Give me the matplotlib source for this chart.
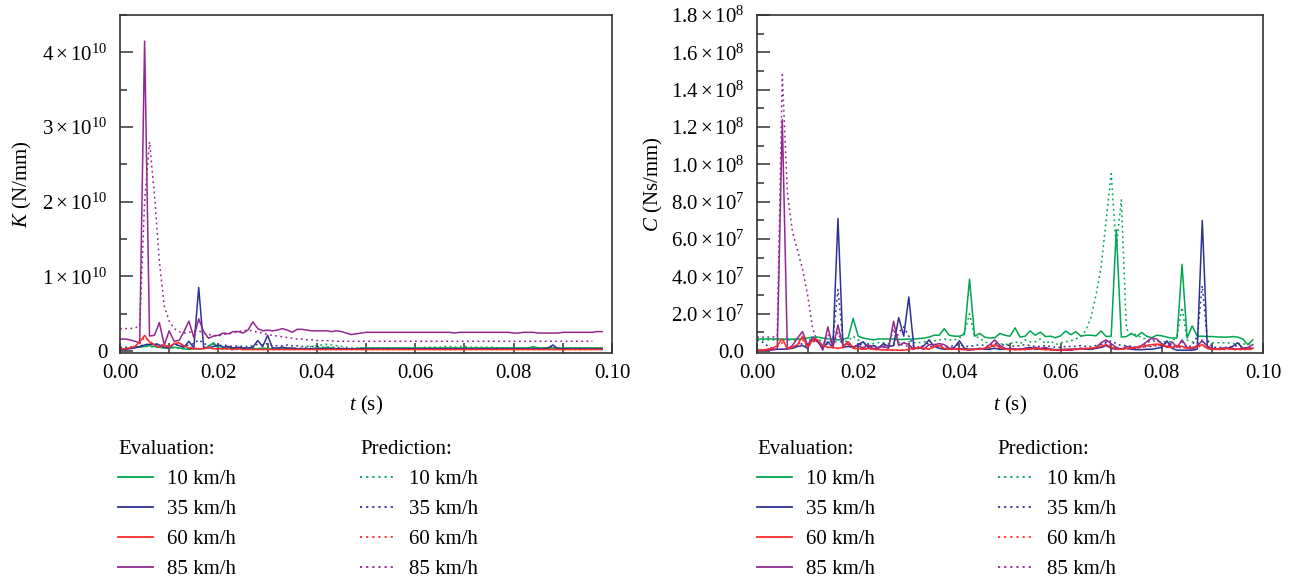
import numpy as np
import matplotlib
matplotlib.use("Agg")
import matplotlib.pyplot as plt
from matplotlib.legend import Legend
from matplotlib.ticker import MultipleLocator, FuncFormatter

plt.rcParams["font.family"] = ["Liberation Serif", "DejaVu Serif"]
plt.rcParams["mathtext.fontset"] = "custom"
plt.rcParams["mathtext.rm"] = "Liberation Serif"
plt.rcParams["mathtext.it"] = "Liberation Serif:italic"

# time axis (s)
t = np.arange(99) * 0.001
t_k85_pred = np.arange(97) * 0.001

speeds = ["10", "35", "60", "85"]
colors = {"10": "#00a651", "35": "#2e3192", "60": "#ff2a2a", "85": "#92278f"}

# ---- stiffness K, units of 1e9 N/mm ----
k_eval_10 = [0.3, 0.3, 0.4, 0.5, 0.5, 0.6, 0.7, 0.6, 0.5, 0.4,
             0.4, 0.5, 0.4, 0.3, 0.2, 0.3, 0.3, 0.3, 0.6, 1.1,
             0.4, 0.3, 0.4, 0.3, 0.3, 0.4, 0.3, 0.3, 0.3, 0.4,
             0.3, 0.3, 0.3, 0.4, 0.3, 0.3, 0.3, 0.3, 0.3, 0.3,
             0.4, 0.4, 0.5, 0.4, 0.3, 0.3, 0.3, 0.3, 0.3, 0.4,
             0.4, 0.4, 0.4, 0.4, 0.4, 0.4, 0.4, 0.4, 0.4, 0.4,
             0.4, 0.4, 0.4, 0.4, 0.4, 0.4, 0.4, 0.4, 0.4, 0.4,
             0.4, 0.4, 0.4, 0.4, 0.4, 0.4, 0.4, 0.4, 0.4, 0.4,
             0.4, 0.4, 0.4, 0.4, 0.6, 0.4, 0.4, 0.4, 0.4, 0.4,
             0.4, 0.4, 0.4, 0.4, 0.4, 0.4, 0.4, 0.4, 0.4]
k_pred_10 = [0.4, 0.4, 0.5, 0.5, 0.6, 0.6, 0.6, 0.5, 0.5, 0.4,
             0.4, 0.4, 0.4, 0.3, 0.3, 0.3, 0.3, 0.4, 0.7, 0.9,
             0.5, 0.4, 0.4, 0.4, 0.3, 0.3, 0.3, 0.4, 0.3, 0.3,
             0.3, 0.3, 0.3, 0.3, 0.3, 0.3, 0.4, 0.4, 0.5, 0.6,
             0.7, 0.8, 0.9, 0.8, 0.7, 0.6, 0.5, 0.4, 0.4, 0.4,
             0.4, 0.4, 0.4, 0.4, 0.4, 0.4, 0.4, 0.4, 0.4, 0.4,
             0.4, 0.4, 0.5, 0.5, 0.5, 0.5, 0.6, 0.6, 0.5, 0.6,
             0.6, 0.5, 0.5, 0.5, 0.5, 0.5, 0.5, 0.4, 0.4, 0.4,
             0.4, 0.4, 0.4, 0.4, 0.5, 0.4, 0.4, 0.4, 0.4, 0.4,
             0.4, 0.4, 0.4, 0.4, 0.4, 0.4, 0.4, 0.4, 0.4]
k_eval_35 = [0.2, 0.2, 0.3, 0.4, 0.6, 0.8, 0.9, 0.9, 0.8, 0.5,
             0.4, 1.0, 0.7, 0.5, 1.3, 0.4, 8.5, 0.5, 0.4, 0.6,
             0.8, 0.5, 0.6, 0.4, 0.5, 0.4, 0.4, 0.5, 1.4, 0.6,
             2.1, 0.4, 0.4, 0.5, 0.4, 0.4, 0.3, 0.3, 0.3, 0.3,
             0.3, 0.3, 0.3, 0.3, 0.3, 0.3, 0.3, 0.3, 0.3, 0.3,
             0.3, 0.3, 0.3, 0.3, 0.3, 0.3, 0.3, 0.3, 0.3, 0.3,
             0.3, 0.3, 0.3, 0.3, 0.3, 0.3, 0.3, 0.3, 0.3, 0.3,
             0.3, 0.3, 0.3, 0.3, 0.3, 0.3, 0.3, 0.3, 0.3, 0.3,
             0.3, 0.3, 0.3, 0.3, 0.3, 0.3, 0.3, 0.4, 0.8, 0.3,
             0.3, 0.3, 0.3, 0.3, 0.3, 0.3, 0.3, 0.3, 0.3]
k_pred_35 = [0.5, 0.5, 0.5, 0.6, 0.7, 0.8, 1.0, 1.0, 0.9, 0.7,
             0.6, 0.8, 0.8, 0.7, 0.8, 1.0, 1.5, 1.0, 0.8, 0.7,
             0.7, 0.8, 0.7, 0.6, 0.7, 0.6, 0.6, 0.7, 0.9, 0.8,
             1.0, 0.7, 0.7, 0.7, 0.8, 0.7, 0.7, 0.6, 0.6, 0.6,
             0.6, 0.5, 0.5, 0.5, 0.5, 0.4, 0.3, 0.3, 0.3, 0.3,
             0.3, 0.3, 0.3, 0.3, 0.3, 0.3, 0.3, 0.3, 0.3, 0.3,
             0.3, 0.3, 0.3, 0.3, 0.3, 0.3, 0.3, 0.3, 0.3, 0.3,
             0.3, 0.3, 0.3, 0.3, 0.3, 0.3, 0.3, 0.3, 0.3, 0.3,
             0.3, 0.3, 0.3, 0.3, 0.3, 0.3, 0.3, 0.4, 0.6, 0.3,
             0.3, 0.3, 0.3, 0.3, 0.3, 0.3, 0.3, 0.3, 0.3]
k_eval_60 = [0.3, 0.3, 0.4, 0.6, 1.2, 2.1, 1.2, 0.8, 0.5, 0.8,
             0.5, 1.0, 1.1, 0.7, 0.4, 0.3, 0.3, 0.3, 0.5, 0.3,
             0.3, 0.3, 0.3, 0.2, 0.3, 0.2, 0.2, 0.2, 0.2, 0.2,
             0.2, 0.2, 0.2, 0.2, 0.2, 0.2, 0.2, 0.2, 0.2, 0.2,
             0.2, 0.2, 0.2, 0.2, 0.2, 0.2, 0.2, 0.2, 0.2, 0.2,
             0.2, 0.2, 0.2, 0.2, 0.2, 0.2, 0.2, 0.2, 0.2, 0.2,
             0.2, 0.2, 0.2, 0.2, 0.2, 0.2, 0.2, 0.2, 0.2, 0.2,
             0.2, 0.2, 0.2, 0.2, 0.2, 0.2, 0.2, 0.2, 0.2, 0.2,
             0.2, 0.2, 0.2, 0.2, 0.2, 0.2, 0.2, 0.2, 0.2, 0.2,
             0.2, 0.2, 0.2, 0.2, 0.2, 0.2, 0.2, 0.2, 0.2]
k_pred_60 = [0.3, 0.3, 0.4, 0.5, 1.0, 1.8, 1.3, 0.9, 0.6, 0.6,
             0.6, 0.9, 1.0, 0.8, 0.5, 0.4, 0.3, 0.3, 0.4, 0.3,
             0.3, 0.3, 0.2, 0.2, 0.2, 0.2, 0.2, 0.2, 0.2, 0.2,
             0.2, 0.2, 0.2, 0.2, 0.2, 0.2, 0.2, 0.2, 0.2, 0.2,
             0.2, 0.2, 0.2, 0.2, 0.2, 0.2, 0.2, 0.2, 0.2, 0.2,
             0.2, 0.2, 0.2, 0.2, 0.2, 0.2, 0.2, 0.2, 0.2, 0.2,
             0.2, 0.2, 0.2, 0.2, 0.2, 0.2, 0.2, 0.2, 0.2, 0.2,
             0.2, 0.2, 0.2, 0.2, 0.2, 0.2, 0.2, 0.2, 0.2, 0.2,
             0.2, 0.2, 0.2, 0.2, 0.2, 0.2, 0.2, 0.2, 0.2, 0.2,
             0.2, 0.2, 0.2, 0.2, 0.2, 0.2, 0.2, 0.2, 0.2]
k_eval_85 = [1.6, 1.6, 1.5, 1.3, 1.1, 41.5, 2.0, 2.1, 3.8, 0.8,
             2.7, 1.3, 1.4, 2.6, 4.0, 1.8, 4.3, 2.6, 1.7, 2.0,
             2.1, 2.4, 2.3, 2.6, 2.6, 2.4, 2.8, 3.9, 3.0, 2.7,
             2.8, 2.7, 2.8, 3.0, 2.8, 2.5, 2.9, 2.9, 2.8, 2.7,
             2.7, 2.7, 2.7, 2.6, 2.7, 2.6, 2.4, 2.2, 2.3, 2.4,
             2.5, 2.5, 2.5, 2.5, 2.5, 2.5, 2.5, 2.5, 2.5, 2.5,
             2.5, 2.5, 2.5, 2.5, 2.5, 2.5, 2.5, 2.5, 2.4, 2.5,
             2.5, 2.5, 2.5, 2.5, 2.5, 2.5, 2.5, 2.5, 2.5, 2.5,
             2.4, 2.4, 2.5, 2.5, 2.5, 2.4, 2.4, 2.4, 2.4, 2.4,
             2.5, 2.5, 2.5, 2.5, 2.5, 2.5, 2.5, 2.6, 2.6]
k_pred_85 = [3.0, 3.0, 3.0, 3.1, 3.3, 20.0, 28.0, 21.0, 12.0, 6.0,
             4.0, 3.0, 2.6, 2.4, 2.5, 2.6, 2.7, 2.4, 2.2, 2.1,
             2.0, 2.2, 2.3, 2.4, 2.6, 2.7, 2.8, 2.7, 2.5, 2.4,
             2.2, 2.1, 2.0, 1.9, 1.8, 1.7, 1.6, 1.6, 1.5, 1.5,
             1.4, 1.4, 1.4, 1.35, 1.3, 1.3, 1.3, 1.3, 1.3, 1.3,
             1.3, 1.3, 1.3, 1.3, 1.3, 1.3, 1.3, 1.3, 1.3, 1.3,
             1.3, 1.3, 1.3, 1.3, 1.3, 1.3, 1.3, 1.3, 1.3, 1.3,
             1.3, 1.3, 1.3, 1.3, 1.3, 1.3, 1.3, 1.3, 1.3, 1.3,
             1.3, 1.3, 1.3, 1.3, 1.3, 1.3, 1.3, 1.3, 1.3, 1.3,
             1.3, 1.3, 1.3, 1.3, 1.3, 1.3, 1.3]

# ---- damping C, units of 1e6 Ns/mm ----
c_eval_10 = [6.5, 6.5, 6.5, 6.5, 6.5, 6.5, 6.4, 6.4, 6.5, 6.6,
             7.0, 7.5, 7.5, 7.0, 6.5, 6.5, 6.0, 6.5, 7.0, 17.5,
             8.0, 7.0, 6.5, 6.0, 6.5, 6.5, 6.5, 6.5, 6.3, 6.3,
             6.5, 6.5, 6.7, 7.0, 7.5, 8.5, 8.5, 12.0, 8.5, 8.0,
             8.0, 9.0, 38.5, 8.0, 9.5, 7.5, 7.0, 7.2, 9.5, 8.5,
             8.0, 12.5, 7.5, 8.0, 10.8, 8.5, 10.2, 7.8, 8.0, 7.2,
             8.2, 10.8, 8.8, 10.4, 8.0, 8.5, 8.5, 8.2, 10.8, 7.8,
             8.0, 65.0, 7.5, 7.8, 9.5, 7.8, 10.0, 8.0, 7.2, 8.5,
             8.2, 7.5, 7.0, 7.0, 46.5, 7.0, 13.5, 8.0, 8.0, 7.8,
             7.8, 7.6, 7.5, 7.5, 7.8, 7.5, 6.5, 3.5, 6.0]
c_pred_10 = [6.0, 6.0, 6.0, 6.0, 6.0, 6.0, 6.0, 6.0, 6.0, 6.0,
             6.0, 6.0, 6.0, 5.5, 5.0, 5.0, 5.0, 5.0, 5.5, 8.0,
             6.0, 4.5, 4.0, 4.0, 4.5, 4.5, 4.0, 4.0, 4.5, 4.5,
             5.0, 4.5, 4.5, 5.0, 5.5, 5.5, 6.0, 6.5, 6.0, 6.0,
             7.0, 10.0, 20.0, 8.0, 7.0, 5.0, 4.0, 3.5, 4.0, 3.5,
             4.0, 5.0, 4.0, 6.0, 5.0, 5.0, 6.5, 4.0, 5.5, 3.5,
             4.5, 5.0, 5.5, 6.5, 8.0, 11.0, 18.0, 30.0, 45.0, 70.0,
             95.0, 55.0, 81.0, 12.0, 8.5, 9.0, 7.0, 6.5, 5.5, 5.0,
             5.0, 5.0, 5.0, 8.0, 23.5, 6.0, 5.0, 4.5, 5.0, 5.0,
             4.5, 4.5, 4.5, 4.5, 4.0, 4.0, 4.0, 3.5, 4.5]
c_eval_35 = [0.5, 0.5, 0.5, 0.8, 1.0, 1.0, 1.2, 1.5, 2.5, 3.0,
             1.5, 6.5, 5.0, 1.5, 5.0, 2.0, 71.0, 2.0, 2.5, 2.0,
             3.5, 5.0, 2.0, 3.0, 1.5, 4.0, 2.5, 3.0, 18.0, 8.0,
             29.0, 2.0, 1.5, 3.0, 6.0, 2.5, 1.5, 1.0, 1.0, 2.0,
             5.5, 1.5, 1.0, 1.0, 1.5, 1.0, 1.0, 1.5, 1.0, 1.0,
             1.5, 1.0, 1.0, 1.5, 2.0, 1.0, 1.0, 1.5, 1.0, 0.8,
             0.8, 1.0, 1.0, 1.0, 1.5, 1.0, 1.0, 1.5, 2.0, 3.0,
             1.5, 1.0, 1.0, 1.5, 1.0, 0.8, 0.8, 1.0, 1.0, 1.5,
             2.0, 5.5, 1.5, 0.5, 0.5, 0.5, 0.5, 1.0, 70.0, 1.5,
             1.0, 1.0, 1.5, 1.5, 2.5, 4.5, 1.5, 1.0, 1.5]
c_pred_35 = [6.0, 5.0, 3.0, 1.5, 1.0, 1.0, 1.5, 2.0, 3.0, 4.0,
             2.5, 5.5, 5.0, 2.5, 4.0, 6.0, 33.0, 5.0, 3.0, 2.5,
             3.0, 4.0, 2.5, 3.0, 2.0, 3.5, 2.5, 3.0, 10.0, 13.0,
             8.0, 2.5, 2.0, 3.0, 4.5, 3.0, 2.0, 2.0, 2.5, 3.0,
             3.5, 2.5, 2.5, 3.0, 3.5, 3.0, 2.5, 2.5, 3.0, 3.5,
             3.0, 2.5, 3.0, 3.5, 3.0, 2.5, 2.5, 3.0, 2.5, 2.0,
             2.0, 2.5, 2.5, 2.5, 3.0, 2.5, 2.5, 3.0, 3.5, 4.5,
             5.5, 4.0, 3.0, 3.0, 2.5, 2.0, 2.0, 2.5, 2.5, 3.0,
             3.0, 4.5, 3.0, 2.0, 2.0, 2.0, 3.0, 8.0, 35.0, 6.0,
             2.0, 2.0, 2.0, 2.0, 2.5, 3.0, 2.0, 1.5, 1.5]
c_eval_60 = [0.5, 0.5, 1.0, 1.5, 3.0, 6.5, 1.5, 2.0, 3.5, 8.0,
             2.0, 6.0, 6.0, 3.0, 2.0, 2.0, 1.5, 2.0, 5.0, 1.5,
             1.5, 1.0, 1.5, 1.0, 0.8, 0.8, 0.6, 0.6, 0.5, 0.5,
             1.0, 1.5, 2.0, 1.5, 1.0, 2.5, 3.0, 1.5, 1.0, 1.0,
             1.0, 0.8, 0.8, 1.0, 1.0, 1.5, 2.0, 3.5, 2.0, 1.0,
             1.0, 0.8, 0.8, 1.0, 1.0, 1.5, 1.0, 0.8, 0.8, 0.5,
             0.5, 0.8, 1.0, 1.0, 1.2, 1.5, 1.5, 2.0, 2.5, 3.5,
             2.0, 1.0, 1.0, 1.5, 1.5, 2.0, 2.5, 3.0, 3.5, 3.8,
             3.5, 2.5, 2.0, 3.0, 2.5, 1.5, 2.0, 2.5, 3.5, 1.5,
             1.0, 1.0, 1.0, 1.5, 1.0, 1.0, 1.0, 1.0, 1.5]
c_pred_60 = [0.3, 0.4, 0.8, 1.2, 2.5, 4.5, 2.0, 2.0, 3.0, 6.0,
             2.5, 5.0, 5.0, 3.0, 2.0, 1.8, 1.5, 1.8, 4.0, 1.5,
             1.2, 1.0, 1.2, 1.0, 0.8, 0.6, 0.5, 0.5, 0.5, 0.6,
             0.8, 1.0, 1.5, 1.2, 1.0, 2.0, 2.5, 1.5, 1.0, 1.0,
             0.8, 0.8, 0.8, 0.8, 1.0, 1.2, 1.5, 2.5, 1.5, 1.0,
             0.8, 0.8, 0.8, 0.8, 1.0, 1.2, 1.0, 0.8, 0.6, 0.5,
             0.5, 0.6, 0.8, 0.8, 1.0, 1.2, 1.2, 1.5, 2.0, 3.0,
             2.0, 1.2, 1.0, 1.2, 1.2, 1.5, 2.0, 2.5, 3.0, 3.0,
             3.0, 2.2, 1.8, 2.5, 2.0, 1.5, 1.8, 2.0, 3.0, 1.5,
             1.0, 0.8, 0.8, 1.0, 0.8, 0.8, 0.8, 0.8, 1.0]
c_eval_85 = [0.5, 0.5, 0.5, 0.7, 1.0, 124.0, 1.0, 3.0, 7.0, 10.5,
             3.0, 7.5, 6.0, 0.5, 13.0, 2.0, 14.0, 2.5, 5.0, 2.0,
             3.0, 1.5, 3.5, 1.0, 2.0, 2.5, 1.5, 16.0, 3.0, 4.5,
             3.5, 1.0, 2.0, 1.0, 3.5, 3.5, 4.0, 3.5, 1.5, 1.0,
             1.5, 1.0, 0.5, 1.0, 1.0, 1.5, 3.5, 6.0, 3.0, 1.5,
             1.0, 1.0, 1.0, 1.5, 1.0, 2.0, 1.5, 2.0, 1.0, 0.5,
             0.5, 0.5, 0.5, 1.0, 1.5, 1.0, 1.5, 2.0, 4.5, 6.0,
             4.0, 2.0, 1.0, 2.5, 2.0, 2.0, 3.0, 5.0, 7.0, 6.5,
             4.0, 2.0, 5.0, 2.0, 6.0, 2.0, 1.0, 3.0, 5.5, 2.5,
             1.5, 1.0, 1.5, 1.5, 1.5, 1.0, 1.5, 2.0, 3.5]
c_pred_85 = [7.5, 7.5, 7.5, 7.5, 8.0, 148.0, 85.0, 64.0, 54.0, 44.0,
             30.0, 12.0, 5.0, 3.0, 9.0, 4.0, 10.0, 3.0, 3.5, 2.0,
             2.5, 2.0, 2.5, 1.5, 2.0, 2.0, 3.0, 12.0, 4.0, 3.0,
             2.5, 1.5, 2.0, 1.0, 2.5, 2.5, 3.0, 3.0, 2.0, 1.0,
             1.0, 1.0, 0.8, 1.0, 1.0, 1.2, 2.5, 4.5, 2.5, 1.2,
             1.0, 1.0, 1.0, 1.2, 1.0, 1.5, 1.2, 1.5, 1.0, 0.8,
             0.8, 0.8, 0.8, 1.0, 1.2, 1.0, 1.2, 1.5, 3.5, 5.0,
             3.0, 1.5, 1.0, 2.0, 1.5, 1.5, 2.5, 4.0, 6.0, 6.0,
             3.5, 2.0, 4.0, 2.0, 5.0, 2.0, 1.0, 2.5, 6.0, 2.5,
             1.5, 1.0, 1.2, 1.2, 1.2, 1.0, 1.2, 1.5, 2.5]

K_eval = {"10": k_eval_10, "35": k_eval_35, "60": k_eval_60, "85": k_eval_85}
K_pred = {"10": k_pred_10, "35": k_pred_35, "60": k_pred_60, "85": k_pred_85}
C_eval = {"10": c_eval_10, "35": c_eval_35, "60": c_eval_60, "85": c_eval_85}
C_pred = {"10": c_pred_10, "35": c_pred_35, "60": c_pred_60, "85": c_pred_85}

DOT = (0, (1.2, 2.2))
FS = 15


def k_fmt(v, pos):
    n = int(round(v / 1e10))
    if n == 0:
        return "0"
    return r"$%d\times10^{10}$" % n


def c_fmt(v, pos):
    if abs(v) < 1:
        return "0.0"
    if v < 9.9e7:
        return r"$%.1f\times10^{7}$" % (v / 1e7)
    return r"$%.1f\times10^{8}$" % (v / 1e8)


def style_axes(ax):
    for s in ax.spines.values():
        s.set_linewidth(1.2)
        s.set_color("#333333")
    ax.set_xlim(0, 0.1)
    ax.xaxis.set_major_locator(MultipleLocator(0.02))
    ax.xaxis.set_minor_locator(MultipleLocator(0.01))
    ax.xaxis.set_major_formatter(FuncFormatter(lambda v, p: "%.2f" % v))
    ax.tick_params(which="both", direction="in", top=False, right=False,
                   labelsize=FS, color="#333333", width=1.1)
    ax.tick_params(axis="x", which="both", length=7, pad=8)
    ax.tick_params(axis="y", which="major", length=9, pad=9)
    ax.tick_params(axis="y", which="minor", length=5)
    ax.set_xlabel(r"$\mathit{t}$ (s)", fontsize=FS, labelpad=8)


def draw_legends(ax, x_eval, x_pred):
    eh, ph = [], []
    for s in speeds:
        eh.append(plt.Line2D([], [], color=colors[s], lw=1.3))
        ph.append(plt.Line2D([], [], color=colors[s], lw=1.3, ls=DOT))
    labels = [s + " km/h" for s in speeds]
    for handles, x, title in [(eh, x_eval, "Evaluation:"), (ph, x_pred, "Prediction:")]:
        leg = Legend(ax, handles, labels, loc="upper left", bbox_to_anchor=(x, -0.258),
                     frameon=False, fontsize=FS, title=title, title_fontsize=FS,
                     alignment="left", borderpad=0, borderaxespad=0,
                     handlelength=1.7, handletextpad=0.65, labelspacing=0.5)
        ax.add_artist(leg)


fig = plt.figure(figsize=(12.92, 5.77), dpi=100)
ax1 = fig.add_axes([120 / 1292, 1 - 353 / 577, 492 / 1292, 338 / 577])
ax2 = fig.add_axes([757 / 1292, 1 - 353 / 577, 506 / 1292, 338 / 577])

# left: stiffness
for s in speeds:
    tp = t_k85_pred if s == "85" else t
    ax1.plot(tp, np.array(K_pred[s]) * 1e9, color=colors[s], lw=1.1, ls=DOT)
for s in ["10", "35", "85", "60"]:
    ax1.plot(t, np.array(K_eval[s]) * 1e9, color=colors[s], lw=1.1)
style_axes(ax1)
ax1.set_ylim(-0.027e10, 4.5e10)
ax1.yaxis.set_major_locator(MultipleLocator(1e10))
ax1.yaxis.set_minor_locator(MultipleLocator(0.5e10))
ax1.yaxis.set_major_formatter(FuncFormatter(k_fmt))
ax1.set_ylabel(r"$\mathit{K}$ (N/mm)", fontsize=FS, labelpad=6)
draw_legends(ax1, -0.004, 0.488)

# right: damping
for s in speeds:
    ax2.plot(t, np.array(C_pred[s]) * 1e6, color=colors[s], lw=1.1, ls=DOT)
for s in ["10", "35", "85", "60"]:
    ax2.plot(t, np.array(C_eval[s]) * 1e6, color=colors[s], lw=1.1)
style_axes(ax2)
ax2.set_ylim(-0.1e7, 1.8e8)
ax2.yaxis.set_major_locator(MultipleLocator(2e7))
ax2.yaxis.set_minor_locator(MultipleLocator(1e7))
ax2.yaxis.set_major_formatter(FuncFormatter(c_fmt))
ax2.set_ylabel(r"$\mathit{C}$ (Ns/mm)", fontsize=FS, labelpad=4)
draw_legends(ax2, 0.0, 0.476)

fig.savefig("out.png", dpi=100)
